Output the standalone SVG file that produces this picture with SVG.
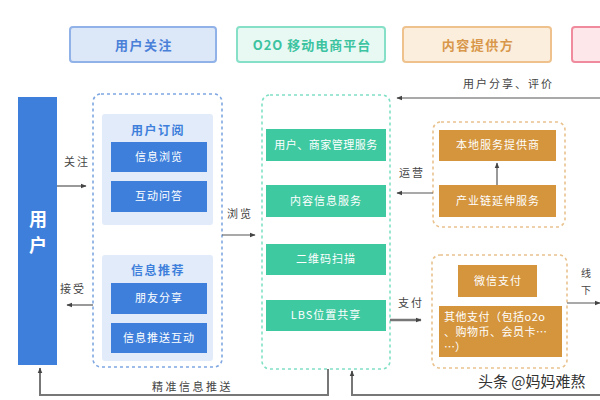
<svg xmlns="http://www.w3.org/2000/svg" width="600" height="400" viewBox="0 0 600 400">
<defs>
<marker id="ah" viewBox="0 0 10 10" refX="9" refY="5" markerWidth="6" markerHeight="6" orient="auto-start-reverse" markerUnits="userSpaceOnUse">
<path d="M0,1 L10,5 L0,9 z" fill="#444"/>
</marker>
<style>
text{font-family:"Noto Sans CJK SC","Noto Sans",sans-serif;}
.lbl{font-size:11px;fill:#444;letter-spacing:2px;}
.vl{font-size:10px;fill:#444;}
.wt{font-size:11px;fill:#fff;text-anchor:middle;letter-spacing:1px;}
.hd{font-size:13px;font-weight:bold;text-anchor:middle;letter-spacing:1.5px;}
.st{font-size:12px;font-weight:bold;fill:#3e7fdc;text-anchor:middle;letter-spacing:1.5px;}
.blue{fill:#3e7fdc;}
.green{fill:#3fc9a1;}
.orange{fill:#d4953c;}
.ln{stroke:#555;stroke-width:1.2;fill:none;}
</style>
</defs>
<rect width="600" height="400" fill="#ffffff"/>

<g id="header-user">
<rect x="70" y="27" width="146" height="35" rx="3" fill="#dce7f8" stroke="#91b2e8" stroke-width="2"/>
<text class="hd" x="144" y="50" fill="#4a80d8">用户关注</text>
</g>
<g id="header-o2o">
<rect x="237" y="27" width="148" height="35" rx="3" fill="#e8f9f4" stroke="#86e0c8" stroke-width="2"/>
<text class="hd" x="312" y="50" fill="#3cc3a0" style="letter-spacing:1px">O2O 移动电商平台</text>
</g>
<g id="header-content">
<rect x="403" y="27" width="148" height="35" rx="3" fill="#fbeedc" stroke="#efc28d" stroke-width="2"/>
<text class="hd" x="478" y="50" fill="#d8974a">内容提供方</text>
</g>
<g id="header-red">
<rect x="572" y="27" width="40" height="35" rx="3" fill="#fde7eb" stroke="#f08b9d" stroke-width="2"/>
</g>

<g id="user">
<rect x="18" y="97" width="39" height="268" class="blue"/>
<text x="38" y="226" font-size="18" font-weight="bold" fill="#fff" text-anchor="middle">用</text>
<text x="38" y="252" font-size="18" font-weight="bold" fill="#fff" text-anchor="middle">户</text>
</g>

<g id="user-focus">
<rect x="93" y="94" width="129" height="273" rx="8" fill="none" stroke="#7fa7e2" stroke-width="1.6" stroke-dasharray="3,3"/>
<g id="subscribe">
<rect x="102" y="114" width="111" height="111" rx="3" fill="#e2ebf9"/>
<text class="st" x="158" y="135">用户订阅</text>
<rect x="111" y="142" width="96" height="30" class="blue"/>
<text class="wt" x="159" y="161">信息浏览</text>
<rect x="111" y="181" width="96" height="31" class="blue"/>
<text class="wt" x="159" y="200">互动问答</text>
</g>
<g id="recommend">
<rect x="102" y="255" width="111" height="106" rx="3" fill="#e2ebf9"/>
<text class="st" x="158" y="275">信息推荐</text>
<rect x="111" y="283" width="96" height="31" class="blue"/>
<text class="wt" x="159" y="302">朋友分享</text>
<rect x="111" y="323" width="96" height="30" class="blue"/>
<text class="wt" x="159" y="342">信息推送互动</text>
</g>
</g>

<g id="platform">
<rect x="262" y="95" width="128" height="274" rx="8" fill="none" stroke="#80e0c6" stroke-width="1.6" stroke-dasharray="3,3"/>
<rect x="266" y="129" width="120" height="32" class="green"/>
<text class="wt" x="326" y="149" style="letter-spacing:0.5px">用户、商家管理服务</text>
<rect x="266" y="185" width="120" height="32" class="green"/>
<text class="wt" x="326" y="205">内容信息服务</text>
<rect x="266" y="244" width="120" height="31" class="green"/>
<text class="wt" x="326" y="263">二维码扫描</text>
<rect x="266" y="300" width="120" height="31" class="green"/>
<text class="wt" x="326" y="319">LBS位置共享</text>
</g>

<g id="provider">
<rect x="433" y="122" width="132" height="105" rx="8" fill="none" stroke="#e9c28e" stroke-width="1.6" stroke-dasharray="3,3"/>
<rect x="439" y="130" width="117" height="31" class="orange"/>
<text class="wt" x="498" y="149">本地服务提供商</text>
<rect x="439" y="185" width="117" height="32" class="orange"/>
<text class="wt" x="498" y="205">产业链延伸服务</text>
</g>

<g id="payment">
<rect x="432" y="255" width="135" height="113" rx="8" fill="none" stroke="#e9c28e" stroke-width="1.6" stroke-dasharray="3,3"/>
<rect x="458" y="265" width="79" height="32" class="orange"/>
<text class="wt" x="498" y="285">微信支付</text>
<rect x="439" y="306" width="123" height="51" class="orange"/>
<text x="444" y="321" font-size="11" fill="#fff" letter-spacing="0.5">其他支付（包括o2o</text>
<text x="444" y="336" font-size="11" fill="#fff" letter-spacing="0.5">、购物币、会员卡…</text>
<text x="444" y="351" font-size="11" fill="#fff">…）</text>
</g>

<g id="connectors">
<path class="ln" d="M57,186 H86" marker-end="url(#ah)"/>
<text class="lbl" x="64" y="166">关注</text>
<path class="ln" d="M93,305 H67" marker-end="url(#ah)"/>
<text class="lbl" x="60" y="293">接受</text>
<path class="ln" d="M222,235 H255" marker-end="url(#ah)"/>
<text class="lbl" x="227" y="218">浏览</text>
<path class="ln" d="M600,98 H397" marker-end="url(#ah)"/>
<text class="lbl" x="463" y="88">用户分享、评价</text>
<path class="ln" d="M497,185 V163" marker-end="url(#ah)"/>
<path class="ln" d="M433,193 H397" marker-end="url(#ah)"/>
<text class="lbl" x="399" y="177">运营</text>
<path d="M390,320 H421" stroke="#777" stroke-width="2.5" fill="none" marker-end="url(#ah)"/>
<text class="lbl" x="398" y="307">支付</text>
<path class="ln" d="M567,303 H600" marker-end="url(#ah)"/>
<text class="vl" x="581" y="277">线</text>
<text class="vl" x="581" y="294">下</text>
<path d="M328,369 V395 H40 V368" stroke="#777" stroke-width="2" fill="none" marker-end="url(#ah)"/>
<text class="lbl" x="152" y="391" style="letter-spacing:2.5px">精准信息推送</text>
<path d="M600,395 H352 V371" stroke="#777" stroke-width="2" fill="none" marker-end="url(#ah)"/>
</g>

<text x="478" y="387" font-size="15" fill="#333" stroke="#fff" stroke-width="2.5" paint-order="stroke">头条 @妈妈难熬</text>
</svg>
